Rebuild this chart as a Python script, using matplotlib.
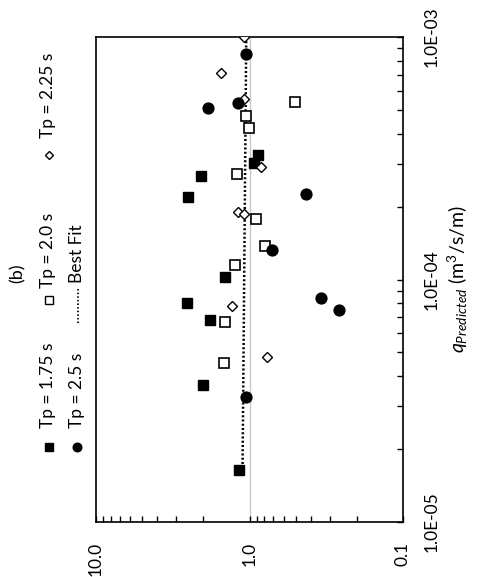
import matplotlib.pyplot as plt
from matplotlib.lines import Line2D
from matplotlib.ticker import FixedLocator, LogLocator, NullFormatter

plt.rcParams['font.family'] = ['Lato', 'DejaVu Sans']
plt.rcParams['mathtext.fontset'] = 'custom'
plt.rcParams['mathtext.rm'] = 'Lato'
plt.rcParams['mathtext.it'] = 'Lato:italic'

# ratio (measured / predicted) vs predicted overtopping rate, one list per wave period
ratio_175 = [0.878, 0.938, 2.06, 2.50, 1.44, 2.55, 1.81, 2.01, 1.17]
q_175 = [3.25e-4, 3.03e-4, 2.66e-4, 2.18e-4, 1.02e-4, 8.03e-5, 6.82e-5, 3.67e-5, 1.64e-5]

ratio_20 = [0.503, 1.057, 1.005, 1.202, 0.901, 0.791, 1.238, 1.438, 1.475]
q_20 = [5.37e-4, 4.74e-4, 4.21e-4, 2.72e-4, 1.78e-4, 1.37e-4, 1.15e-4, 6.70e-5, 4.51e-5]

ratio_225 = [1.078, 1.543, 1.083, 0.836, 1.191, 1.083, 1.303, 0.767]
q_225 = [1.0e-3, 7.11e-4, 5.56e-4, 2.92e-4, 1.89e-4, 1.86e-4, 7.76e-5, 4.78e-5]

ratio_25 = [1.057, 1.874, 1.196, 0.431, 0.717, 0.341, 0.262, 1.05]
q_25 = [8.51e-4, 5.11e-4, 5.35e-4, 2.26e-4, 1.32e-4, 8.38e-5, 7.50e-5, 3.28e-5]

fit_ratio = [1.05, 1.11]
fit_q = [1.0e-3, 1.64e-5]

ratio_ticks = [10.0, 1.0, 0.1]
ratio_labels = ['10.0', '1.0', '0.1']
q_ticks = [1e-5, 1e-4, 1e-3]
q_labels = ['1.0E-05', '1.0E-04', '1.0E-03']

W, H = 480, 577
fig = plt.figure(figsize=(4.8, 5.77), dpi=100)
ax = fig.add_axes([96 / W, 1 - 522 / H, (403 - 96) / W, (522 - 37) / H])

ax.set_xscale('log')
ax.set_yscale('log')
ax.set_xlim(10, 0.1)
ax.set_ylim(1e-5, 1e-3)

ax.axvline(1.0, color='#c8c8c8', lw=1, zorder=1)
ax.plot(fit_ratio, fit_q, color='black', lw=1.8, linestyle=(0, (0.8, 0.9)), zorder=2)

ax.plot(ratio_175, q_175, 's', color='black', ms=7.4, zorder=3)
ax.plot(ratio_20, q_20, 's', mfc='white', mec='black', mew=1.2, ms=7, zorder=3)
ax.plot(ratio_225, q_225, 'D', mfc='white', mec='black', mew=1.0, ms=4.9, zorder=3)
ax.plot(ratio_25, q_25, 'o', color='black', ms=7.8, zorder=3)

for s in ax.spines.values():
    s.set_linewidth(1.2)

ax.xaxis.set_major_locator(FixedLocator(ratio_ticks))
ax.set_xticklabels(ratio_labels, rotation=90, va='top', ha='center')
ax.xaxis.set_minor_locator(LogLocator(base=10, subs=range(2, 10)))
ax.xaxis.set_minor_formatter(NullFormatter())
ax.tick_params(axis='x', which='both', direction='in', length=4, width=1, labelsize=12.5, pad=14,
               top=False, bottom=True)

ax.yaxis.tick_right()
ax.yaxis.set_major_locator(FixedLocator(q_ticks))
ax.set_yticklabels(q_labels, rotation=90, va='center', ha='left')
ax.yaxis.set_minor_locator(LogLocator(base=10, subs=range(2, 10)))
ax.yaxis.set_minor_formatter(NullFormatter())
ax.tick_params(axis='y', which='both', direction='in', length=4, width=1, labelsize=12.5, pad=15,
               left=False, right=True)

ax.yaxis.set_label_position('right')
ax.set_ylabel(r'$q_{Predicted}$ (m$^3$/s/m)', fontsize=14, rotation=90, labelpad=4)

# legend and panel label, drawn rotated like the rest of the figure
def fx(px):
    return px / W

def fy(py):
    return 1 - py / H

fig.text(fx(17.5), fy(273), '(b)', rotation=90, ha='center', va='center', fontsize=13)

fig.add_artist(Line2D([fx(48.5)], [fy(447)], marker='s', color='black', ms=5.4))
fig.text(fx(48.5), fy(428), 'Tp = 1.75 s', rotation=90, ha='center', va='bottom', fontsize=12.5)
fig.add_artist(Line2D([fx(48.5)], [fy(300)], marker='s', mfc='white', mec='black', mew=1, ms=5.2))
fig.text(fx(48.5), fy(288), 'Tp = 2.0 s', rotation=90, ha='center', va='bottom', fontsize=12.5)
fig.add_artist(Line2D([fx(48.5)], [fy(155)], marker='D', mfc='white', mec='black', mew=1, ms=3.8))
fig.text(fx(48.5), fy(138), 'Tp = 2.25 s', rotation=90, ha='center', va='bottom', fontsize=12.5)

fig.add_artist(Line2D([fx(77)], [fy(447)], marker='o', color='black', ms=6.2))
fig.text(fx(77), fy(428), 'Tp = 2.5 s', rotation=90, ha='center', va='bottom', fontsize=12.5)
fig.add_artist(Line2D([fx(78), fx(78)], [fy(323), fy(287)], color='black', lw=1.3,
                      linestyle=(0, (0.8, 1.2))))
fig.text(fx(77), fy(283), 'Best Fit', rotation=90, ha='center', va='bottom', fontsize=12.5)

fig.savefig('out.png', dpi=100)
